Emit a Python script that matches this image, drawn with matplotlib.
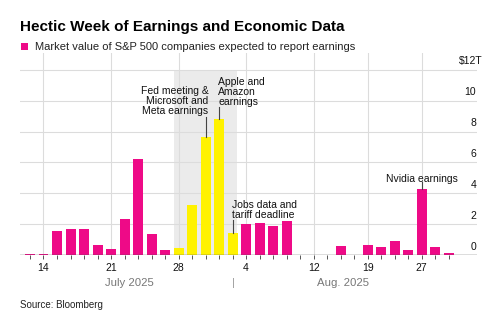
import matplotlib
matplotlib.use("Agg")
import matplotlib.pyplot as plt
from matplotlib.patches import Rectangle
import matplotlib.transforms as mtransforms

plt.rcParams['font.family'] = ['Liberation Sans', 'DejaVu Sans']

# ---- data (trillions USD, one bar per trading day) ----
values = [0.04, 0.04, 1.56, 1.69, 1.69, 0.65, 0.39, 2.34, 6.23, 1.36, 0.32,
          0.45, 3.25, 7.66, 8.83, 1.43, 2.00, 2.08, 1.88, 2.21, 0.03, 0.03,
          0.02, 0.58, 0.03, 0.65, 0.52, 0.91, 0.32, 4.29, 0.52, 0.13]
highlight = [11, 12, 13, 14, 15]          # the hectic week (Jul 28 - Aug 1)
tick_slots = [1, 6, 11, 16, 21, 25, 29]
tick_labels = ['14', '21', '28', '4', '12', '19', '27']
y_ticks = [0, 2, 4, 6, 8, 10, 12]
months = ['July 2025', 'Aug. 2025']

PINK = '#EE0A87'
YELLOW = '#FFF200'
GRID = '#DCDCDC'

W, H = 492, 323
fig = plt.figure(figsize=(W / 100, H / 100), dpi=100)
ax = fig.add_axes([20 / W, 1 - 255 / H, (477 - 20) / W, (255 - 53) / H])

x = list(range(len(values)))
colors = [YELLOW if i in highlight else PINK for i in x]

ax.set_xlim(-0.74, 33.1)
ax.set_ylim(0, 13.1)

# shaded week
ax.add_patch(Rectangle((highlight[0] - 0.3, 0), len(highlight) - 0.4, 12,
                       facecolor='#EBEBEB', edgecolor='none', zorder=0.5))

# gridlines
for yt in y_ticks[1:]:
    ax.axhline(yt, color=GRID, lw=0.8, zorder=0.8)
for ts in tick_slots:
    ax.axvline(ts, color=GRID, lw=0.8, zorder=0.8)

ax.bar(x, values, width=0.74, color=colors, zorder=2)

ax.axhline(0, color='#555555', lw=1.0, zorder=3)

for s in ['top', 'right', 'left', 'bottom']:
    ax.spines[s].set_visible(False)

ax.set_yticks([])
ax.set_xticks(tick_slots)
ax.set_xticklabels(tick_labels, fontsize=7.5, color='#111111')
ax.set_xticks(x, minor=True)
ax.tick_params(axis='x', which='both', length=3, width=0.7, color='#555555', pad=3)

# right-side y labels
ytrans = mtransforms.offset_copy(ax.get_yaxis_transform(), fig=fig, x=0, y=8.5, units='dots')
for yt in y_ticks:
    if yt == 12:
        ax.text(1.0115, yt, '$12T', transform=ytrans, ha='right', va='center',
                fontsize=7.5, color='#111111')
    else:
        ax.text(0.998, yt, str(yt), transform=ytrans, ha='right', va='center',
                fontsize=7.5, color='#111111')

# month labels
xt = ax.get_xaxis_transform()
ax.text(7.33, -0.14, months[0], transform=xt, ha='center', va='center',
        fontsize=8.2, color='#777777')
ax.text(23.2, -0.14, months[1], transform=xt, ha='center', va='center',
        fontsize=8.2, color='#777777')
ax.text(15.04, -0.14, '|', transform=xt, ha='center', va='center',
        fontsize=8, color='#999999')

# annotations
afs = 7.5
ax.text(13.2, 10.95, 'Fed meeting &\nMicrosoft and\nMeta earnings', ha='right', va='top',
        fontsize=afs, color='#111111', linespacing=1.0, zorder=4)
ax.plot([13, 13], [8.96, values[13]], color='#444444', lw=0.8, zorder=4)

ax.text(13.93, 11.56, 'Apple and\nAmazon\nearnings', ha='left', va='top',
        fontsize=afs, color='#111111', linespacing=1.0, zorder=4)
ax.plot([14, 14], [9.6, values[14]], color='#444444', lw=0.8, zorder=4)

ax.text(14.96, 3.57, 'Jobs data and\ntariff deadline', ha='left', va='top',
        fontsize=afs, color='#111111', linespacing=1.0, zorder=4)
ax.plot([15, 15], [2.27, values[15]], color='#444444', lw=0.8, zorder=4)

ax.text(29, 4.94, 'Nvidia earnings', ha='center', va='center',
        fontsize=afs, color='#111111', zorder=4)
ax.plot([29, 29], [4.74, values[29]], color='#444444', lw=0.8, zorder=4)

# title, legend, source
fig.text(20 / W, 1 - 27 / H, 'Hectic Week of Earnings and Economic Data',
         fontsize=11, fontweight='bold', ha='left', va='center', color='#000000')
fig.patches.append(Rectangle((21 / W, 1 - 50 / H), 7 / W, 7 / H, transform=fig.transFigure,
                             facecolor=PINK, edgecolor='none'))
fig.text(35 / W, 1 - 46.5 / H, 'Market value of S&P 500 companies expected to report earnings',
         fontsize=8, ha='left', va='center', color='#222222')
fig.text(20 / W, 1 - 305 / H, 'Source: Bloomberg', fontsize=7, ha='left', va='center',
         color='#222222')

fig.savefig('out.png', dpi=100)
